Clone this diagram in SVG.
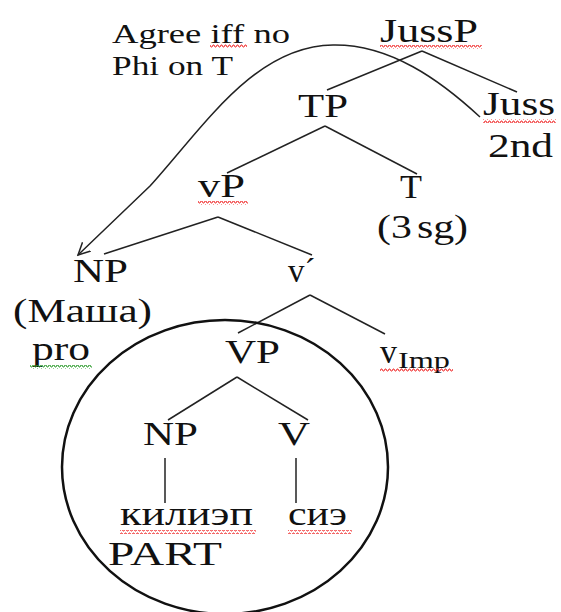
<svg xmlns="http://www.w3.org/2000/svg" width="561" height="612" viewBox="0 0 561 612">
<style>
text{font-family:'Liberation Serif','Times New Roman','DejaVu Serif',serif;fill:#111;font-size:33px}
.sm{font-size:28px}
.sub{font-size:23px}
.edge{stroke:#222;stroke-width:1.5;fill:none}
.red{fill:url(#wr)}
.grn{fill:url(#wg)}
</style>
<defs>
<pattern id="wr" width="4" height="4" patternUnits="userSpaceOnUse"><polyline points="0,3 1,1 2,1 3,3 4,3" fill="none" stroke="#f03030" stroke-width="1"/></pattern>
<pattern id="wg" width="4" height="4" patternUnits="userSpaceOnUse"><polyline points="0,3 1,1 2,1 3,3 4,3" fill="none" stroke="#2a9a2a" stroke-width="1"/></pattern>
<marker id="arr" markerWidth="14" markerHeight="14" refX="12" refY="7" orient="auto" markerUnits="userSpaceOnUse"><polyline points="0,1 12,7 0,13" fill="none" stroke="#222" stroke-width="1.5"/></marker>
</defs>
<rect width="561" height="612" fill="#fff"/>
<g id="connectors">
<line class="edge" x1="422" y1="51" x2="327" y2="90"/>
<line class="edge" x1="422" y1="51" x2="517" y2="92"/>
<line class="edge" x1="325" y1="126" x2="227" y2="173"/>
<line class="edge" x1="325" y1="126" x2="417" y2="174"/>
<line class="edge" x1="218" y1="217" x2="104" y2="254"/>
<line class="edge" x1="218" y1="217" x2="312" y2="255"/>
<line class="edge" x1="310" y1="295" x2="238" y2="333"/>
<line class="edge" x1="310" y1="295" x2="385" y2="334"/>
<line class="edge" x1="237" y1="377" x2="168" y2="420"/>
<line class="edge" x1="237" y1="377" x2="308" y2="420"/>
<line class="edge" x1="165" y1="458" x2="165" y2="503"/>
<line class="edge" x1="296" y1="458" x2="296" y2="503"/>
<path class="edge" d="M480,117 C440,80 390,44 333,45 C255,46 205,125 150,186 L78,255" marker-end="url(#arr)"/>
</g>
<g id="circle"><ellipse cx="225" cy="467" rx="163" ry="147" fill="none" stroke="#111" stroke-width="2.5"/></g>
<g id="note"><text class="sm" x="112" y="43" textLength="178" lengthAdjust="spacingAndGlyphs">Agree iff no</text><text class="sm" x="112" y="75" textLength="121" lengthAdjust="spacingAndGlyphs">Phi on T</text><rect class="red" x="210" y="44" width="37" height="4"/></g>
<g id="JussP"><text x="380" y="42" textLength="98" lengthAdjust="spacingAndGlyphs">JussP</text><rect class="red" x="380" y="45" width="102" height="4"/></g>
<g id="TP"><text x="298" y="117" textLength="50" lengthAdjust="spacingAndGlyphs">TP</text></g>
<g id="Juss"><text x="483" y="115" textLength="72" lengthAdjust="spacingAndGlyphs">Juss</text><rect class="red" x="483" y="119" width="73" height="4"/><text x="488" y="157" textLength="65" lengthAdjust="spacingAndGlyphs">2nd</text></g>
<g id="vP"><text x="198" y="197" textLength="47" lengthAdjust="spacingAndGlyphs">vP</text><rect class="red" x="198" y="201" width="50" height="4"/></g>
<g id="T"><text x="400" y="198" textLength="22" lengthAdjust="spacingAndGlyphs">T</text><text x="377" y="238" textLength="91" lengthAdjust="spacingAndGlyphs">(3<tspan dx="4">sg)</tspan></text></g>
<g id="NP1"><text x="73" y="282" textLength="55" lengthAdjust="spacingAndGlyphs">NP</text><text x="13" y="322" textLength="139" lengthAdjust="spacingAndGlyphs">(Маша)</text><text x="32" y="360" textLength="58" lengthAdjust="spacingAndGlyphs">pro</text><rect class="grn" x="30" y="365" width="62" height="4"/></g>
<g id="vbar"><text x="288" y="282">v´</text></g>
<g id="VP"><text x="225" y="363" textLength="55" lengthAdjust="spacingAndGlyphs">VP</text></g>
<g id="vImp"><text x="380" y="363" textLength="17" lengthAdjust="spacingAndGlyphs">v</text><text class="sub" x="398" y="368" textLength="52" lengthAdjust="spacingAndGlyphs">Imp</text><rect class="red" x="380" y="368" width="73" height="4"/></g>
<g id="NP2"><text x="143" y="445" textLength="55" lengthAdjust="spacingAndGlyphs">NP</text></g>
<g id="V"><text x="278" y="445" textLength="32" lengthAdjust="spacingAndGlyphs">V</text></g>
<g id="kilieap"><text x="120" y="525" textLength="133" lengthAdjust="spacingAndGlyphs">килиэп</text><rect class="red" x="120" y="530" width="136" height="4"/><text x="108" y="565" textLength="114" lengthAdjust="spacingAndGlyphs">PART</text></g>
<g id="sie"><text x="288" y="525" textLength="59" lengthAdjust="spacingAndGlyphs">сиэ</text><rect class="red" x="288" y="530" width="64" height="4"/></g>
</svg>
